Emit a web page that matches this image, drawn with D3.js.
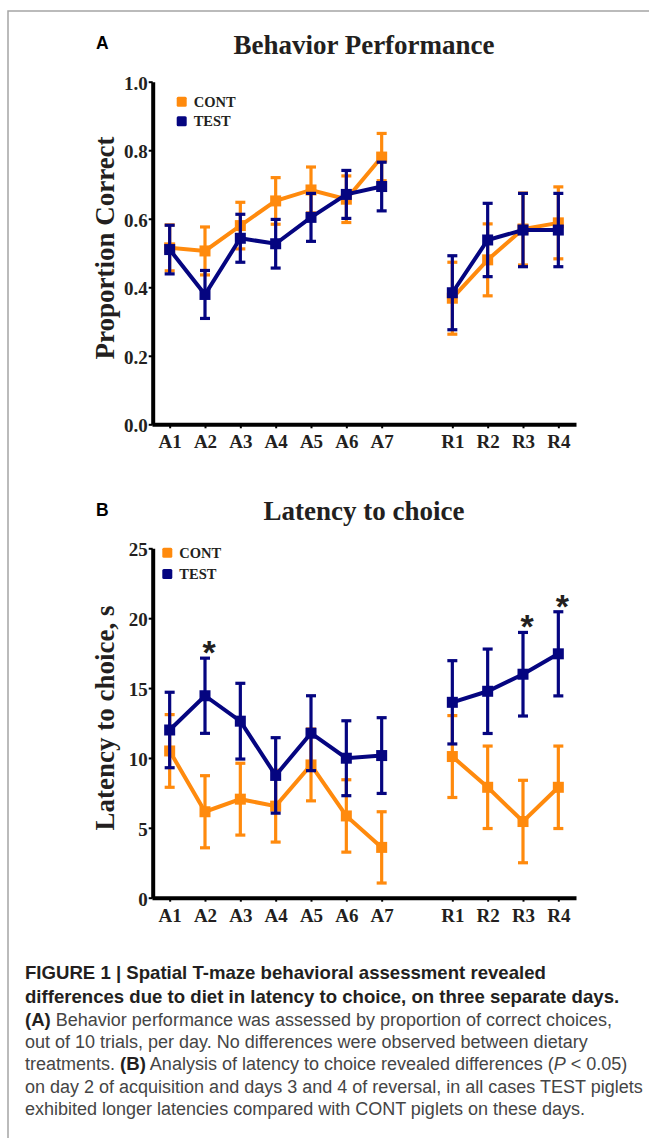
<!DOCTYPE html>
<html>
<head>
<meta charset="utf-8">
<script src="https://cdn.jsdelivr.net/npm/d3@7"></script>
<style>
  body { margin: 0; background: #fff; }
  svg { display: block; }
  .serif { font-family: "Liberation Serif", "Times New Roman", serif; font-weight: bold; fill: #231f20; }
  .sans { font-family: "Liberation Sans", Arial, sans-serif; }
</style>
</head>
<body>
<svg id="fig" width="649" height="1138"></svg>
<script>
// days of training, acquisition then reversal
let days = ["A1", "A2", "A3", "A4", "A5", "A6", "A7", "R1", "R2", "R3", "R4"];
let series = ["CONT", "TEST"];

// panel A: proportion correct (mean, sem)
let perfCont    = [0.515, 0.506, 0.580, 0.652, 0.684, 0.657, 0.780, 0.368, 0.480, 0.570, 0.588];
let perfContErr = [0.067, 0.070, 0.068, 0.068, 0.067, 0.068, 0.069, 0.105, 0.105, 0.105, 0.105];
let perfTest    = [0.510, 0.379, 0.543, 0.527, 0.604, 0.671, 0.694, 0.384, 0.538, 0.567, 0.567];
let perfTestErr = [0.071, 0.070, 0.070, 0.071, 0.070, 0.070, 0.071, 0.108, 0.107, 0.107, 0.107];

// panel B: latency to choice, s (mean, sem)
let latCont    = [10.50, 6.15, 7.05, 6.55, 9.50, 5.85, 3.60, 10.10, 7.90, 5.45, 7.90];
let latContErr = [2.60, 2.58, 2.57, 2.57, 2.57, 2.59, 2.55, 2.93, 2.95, 2.95, 2.95];
let latTest    = [12.00, 14.45, 12.63, 8.75, 11.77, 9.98, 10.17, 13.98, 14.77, 15.99, 17.45];
let latTestErr = [2.70, 2.69, 2.71, 2.70, 2.68, 2.68, 2.71, 2.98, 3.02, 2.99, 3.01];
let latStars = ["A2", "R3", "R4"];

let perfTicks = [0, 0.2, 0.4, 0.6, 0.8, 1.0];
let latTicks = [0, 5, 10, 15, 20, 25];

// caption: each line is a list of [text, bold]
let caption = [
  [["FIGURE 1 | Spatial T-maze behavioral assessment revealed", true]],
  [["differences due to diet in latency to choice, on three separate days.", true]],
  [["(A)", true], [" Behavior performance was assessed by proportion of correct choices,", false]],
  [["out of 10 trials, per day. No differences were observed between dietary", false]],
  [["treatments. ", false], ["(B)", true], [" Analysis of latency to choice revealed differences (", false], ["P", "italic"], [" < 0.05)", false]],
  [["on day 2 of acquisition and days 3 and 4 of reversal, in all cases TEST piglets", false]],
  [["exhibited longer latencies compared with CONT piglets on these days.", false]]
];

let colors = { CONT: "#ff8a0d", TEST: "#050580" };

let svg = d3.select("#fig");

// figure frame
svg.append("path")
    .attr("d", "M8,1138 V11 H649")
    .attr("fill", "none")
    .attr("stroke", "#a5a5a5")
    .attr("stroke-width", 1.5);

// a spacer slot between acquisition and reversal
let x = d3.scalePoint()
    .domain(days.slice(0, 7).concat(["gap"], days.slice(7)))
    .range([152, 576])
    .padding(0.5);

function panel(o) {
  let y = d3.scaleLinear().domain(o.domain).range([o.bottom, o.top]);
  let g = svg.append("g");

  g.append("text").attr("class", "sans")
      .attr("x", 96).attr("y", o.top - 32.5)
      .attr("font-size", 17.5).attr("font-weight", "bold")
      .text(o.letter);

  g.append("text").attr("class", "serif")
      .attr("x", 364).attr("y", o.top - 28)
      .attr("text-anchor", "middle")
      .attr("font-size", 27)
      .text(o.title);

  g.append("text").attr("class", "serif")
      .attr("transform", `translate(114, ${(o.top + o.bottom) / 2 - 5}) rotate(-90)`)
      .attr("text-anchor", "middle")
      .attr("font-size", 27)
      .text(o.yLabel);

  // axes
  let ya = g.append("g")
      .attr("transform", "translate(152.7,0)")
      .call(d3.axisLeft(y).tickValues(o.ticks).tickFormat(o.format).tickSize(4).tickSizeOuter(0).tickPadding(1));
  let xa = g.append("g")
      .attr("transform", `translate(0,${o.bottom})`)
      .call(d3.axisBottom(x).tickValues(days).tickSize(4).tickSizeOuter(0).tickPadding(5));

  [ya, xa].forEach((a) => {
    a.select(".domain").attr("stroke", "#000").attr("stroke-width", 4);
    a.selectAll(".tick line").attr("stroke", "#000").attr("stroke-width", 2);
    a.selectAll(".tick text")
        .attr("class", "serif")
        .attr("font-size", 19)
        .attr("fill", "#231f20");
  });
  ya.selectAll(".tick text").attr("dy", "0.4em");
  xa.selectAll(".tick text").attr("dy", "0.8em");

  // series
  o.data.forEach((s) => {
    let pts = days.map((d, i) => ({ day: d, v: s.values[i], e: s.errors[i] }));
    let sg = g.append("g").attr("stroke", colors[s.name]).attr("fill", colors[s.name]);
    let line = d3.line().x((d) => x(d.day)).y((d) => y(d.v));

    [pts.filter((d) => d.day[0] === "A"), pts.filter((d) => d.day[0] === "R")].forEach((seg) => {
      sg.append("path").datum(seg)
          .attr("fill", "none")
          .attr("stroke-width", 4)
          .attr("d", line);
    });

    let eb = sg.selectAll("g.err").data(pts).enter().append("g").attr("class", "err")
        .attr("stroke-width", 3.2);
    eb.append("line")
        .attr("x1", (d) => x(d.day)).attr("x2", (d) => x(d.day))
        .attr("y1", (d) => y(d.v - d.e)).attr("y2", (d) => y(d.v + d.e));
    eb.append("line")
        .attr("x1", (d) => x(d.day) - 5).attr("x2", (d) => x(d.day) + 5)
        .attr("y1", (d) => y(d.v + d.e)).attr("y2", (d) => y(d.v + d.e));
    eb.append("line")
        .attr("x1", (d) => x(d.day) - 5).attr("x2", (d) => x(d.day) + 5)
        .attr("y1", (d) => y(d.v - d.e)).attr("y2", (d) => y(d.v - d.e));

    sg.selectAll("rect").data(pts).enter().append("rect")
        .attr("stroke", "none")
        .attr("x", (d) => x(d.day) - 5.5).attr("y", (d) => y(d.v) - 5.5)
        .attr("width", 11).attr("height", 11);
  });

  // legend
  let lg = g.selectAll("g.legend").data(series).enter().append("g")
      .attr("transform", (d, i) => `translate(${o.legendX}, ${o.legendY + i * o.legendStep})`);
  lg.append("rect")
      .attr("x", -5).attr("y", -5).attr("width", 10).attr("height", 10).attr("rx", 1.5)
      .attr("fill", (d) => colors[d]);
  lg.append("text").attr("class", "serif")
      .attr("x", 12).attr("y", 5)
      .attr("font-size", 14.5)
      .text((d) => d);

  // significance marks above the TEST error bar
  if (o.stars) {
    let test = o.data[1];
    g.selectAll("text.star").data(o.stars).enter().append("text")
        .attr("class", "sans")
        .attr("x", (d) => x(d) + 4)
        .attr("y", (d) => { let i = days.indexOf(d); return y(test.values[i] + test.errors[i]) + 6; })
        .attr("text-anchor", "middle")
        .attr("font-size", 34)
        .attr("font-weight", "bold")
        .attr("fill", "#231f20")
        .text("*");
  }
}

panel({
  letter: "A", title: "Behavior Performance", yLabel: "Proportion Correct",
  domain: [0, 1], top: 81.7, bottom: 424.3, ticks: perfTicks, format: d3.format(".1f"),
  data: [
    { name: "CONT", values: perfCont, errors: perfContErr },
    { name: "TEST", values: perfTest, errors: perfTestErr }
  ],
  legendX: 181.7, legendY: 101.7, legendStep: 19.5
});

panel({
  letter: "B", title: "Latency to choice", yLabel: "Latency to choice, s",
  domain: [0, 25], top: 548.3, bottom: 897.7, ticks: latTicks, format: d3.format("d"),
  data: [
    { name: "CONT", values: latCont, errors: latContErr },
    { name: "TEST", values: latTest, errors: latTestErr }
  ],
  legendX: 167.3, legendY: 552.7, legendStep: 21.3,
  stars: latStars
});

// caption
let cap = svg.append("g").attr("class", "sans").attr("font-size", 18);
let baselines = [979, 1003, 1025.5, 1048, 1070, 1092.5, 1114.5];
caption.forEach((parts, i) => {
  let t = cap.append("text").attr("x", 25).attr("y", baselines[i]);
  parts.forEach(([txt, style]) => {
    t.append("tspan")
        .attr("font-size", style === true ? 18.6 : 18)
        .attr("font-weight", style === true ? "bold" : "normal")
        .attr("font-style", style === "italic" ? "italic" : "normal")
        .attr("fill", style === true ? "#231f20" : "#454545")
        .text(txt);
  });
});
</script>
</body>
</html>
